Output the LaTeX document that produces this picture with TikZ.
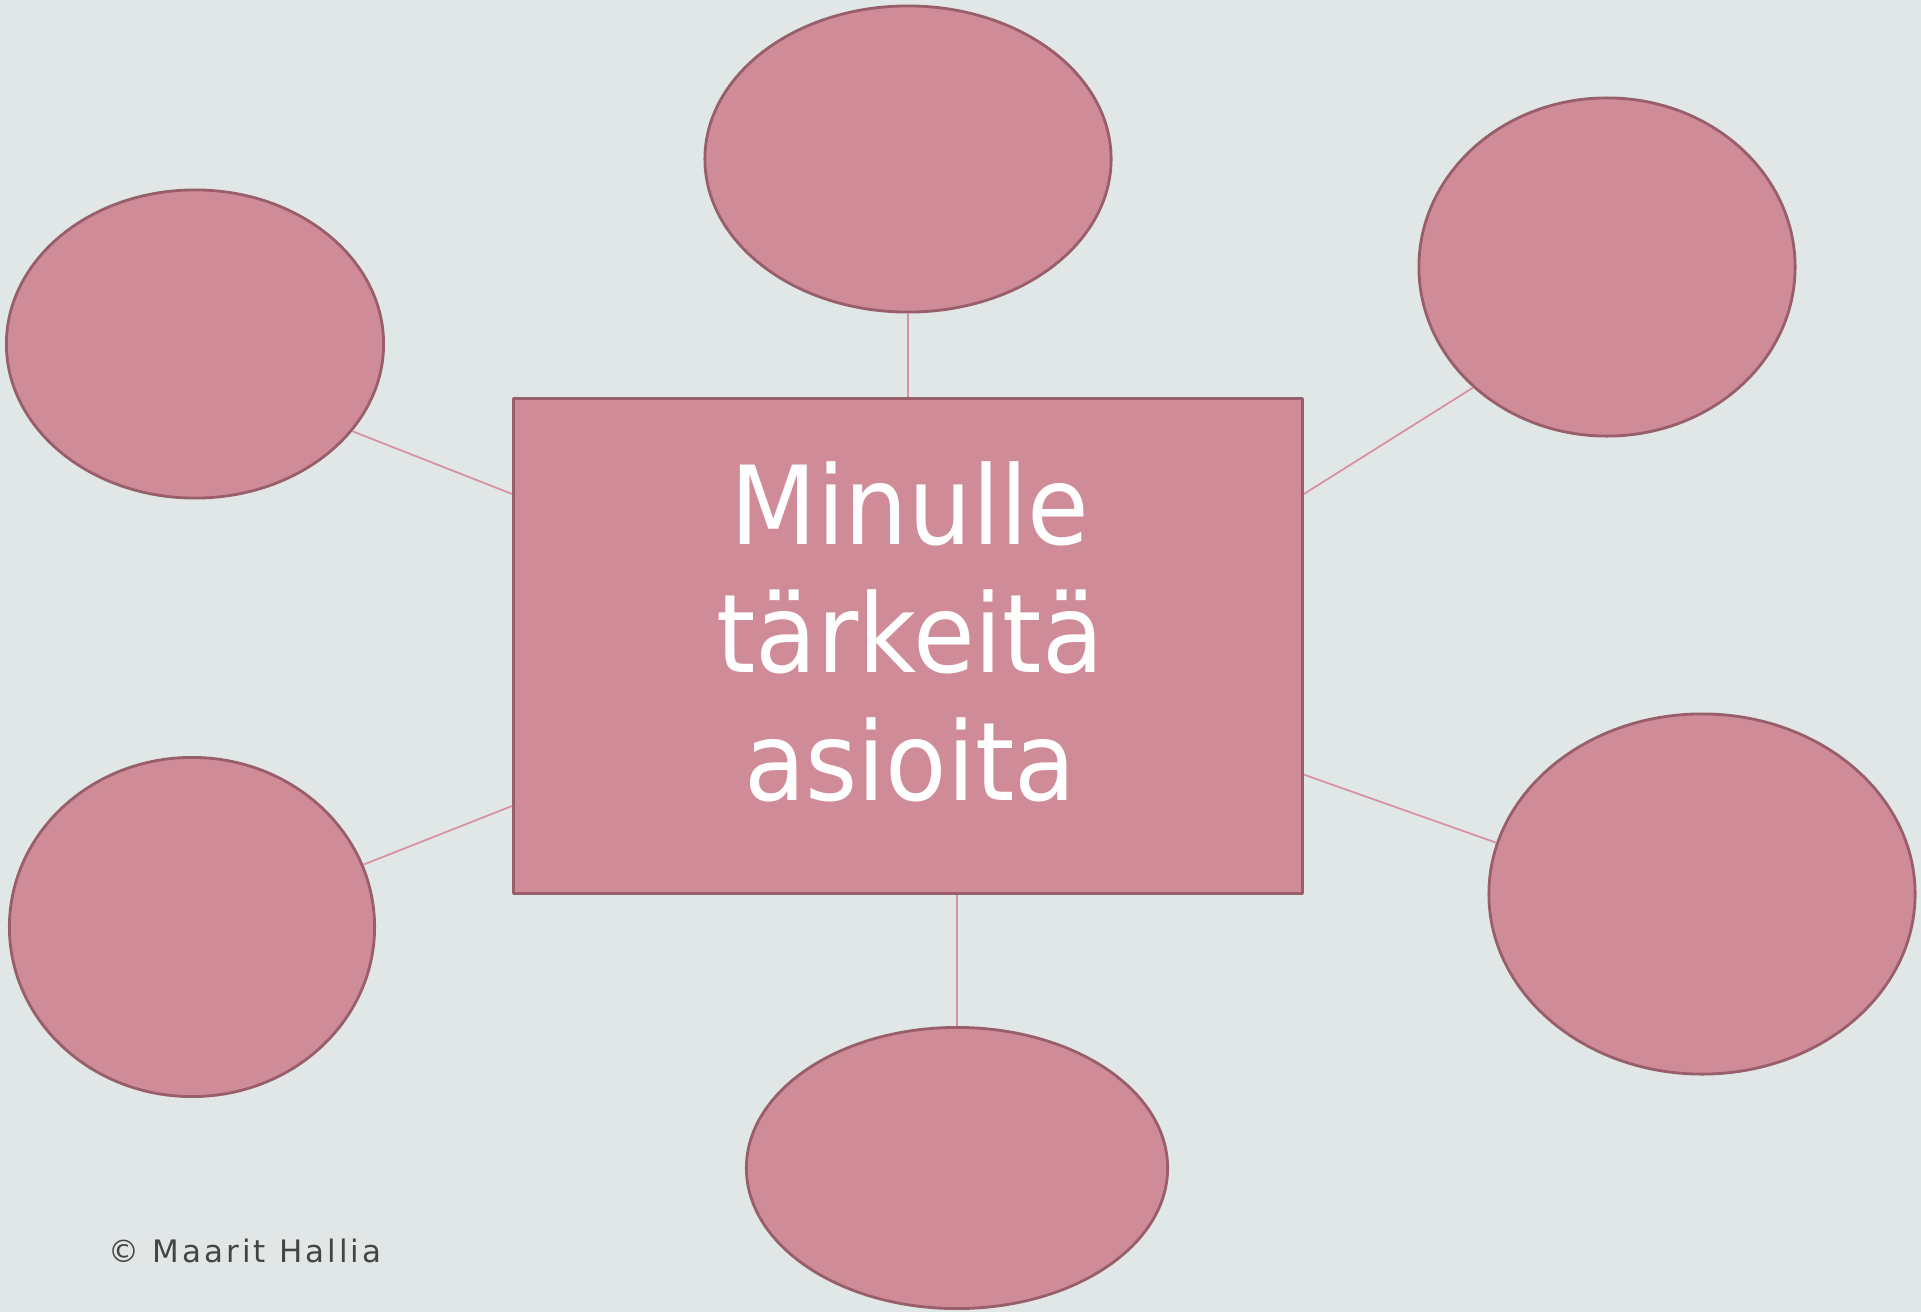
\documentclass[tikz,border=0pt]{standalone}
\usepackage{fontspec}
\usepackage{tikz}
\usetikzlibrary{shapes.geometric}
\setmainfont{DejaVu Sans}
\newfontfamily\titlefont[FakeStretch=0.92]{DejaVu Sans}
\newfontfamily\signfont[LetterSpace=10]{DejaVu Sans}
\definecolor{bgcol}{RGB}{225,231,231}
\definecolor{pink1}{RGB}{208,139,152}
\definecolor{pinkdark}{RGB}{152,94,106}
\definecolor{pinkline}{RGB}{214,146,159}
\definecolor{signcol}{RGB}{68,68,68}

\begin{document}
\begin{tikzpicture}[x=0.01cm,y=-0.01cm,line join=round]
  \tikzstyle{blob}=[ellipse,fill=pink1,draw=pinkdark,line width=0.8pt,inner sep=0pt]
  \tikzstyle{box}=[rectangle,fill=pink1,draw=pinkdark,line width=0.9pt,inner sep=0pt,
                   minimum width=7.88cm,minimum height=4.94cm]
  \tikzstyle{link}=[draw=pinkline,line width=0.5pt]

  % background and page size
  \fill[bgcol] (0,0) rectangle (1921,1312);
  \useasboundingbox (0,0) rectangle (1921,1312);

  \node[box]  (box) at (908,646) {};
  \node[text=white,align=center,inner sep=0pt,
        font=\titlefont\fontsize{31}{36.3}\selectfont]
              (title) at (910,632) {Minulle\\tärkeitä\\asioita};

  \node[blob,minimum width=4.06cm,minimum height=3.06cm] (top)   at (908,159)  {};
  \node[blob,minimum width=3.77cm,minimum height=3.08cm] (upl)   at (195,344)  {};
  \node[blob,minimum width=3.76cm,minimum height=3.38cm] (upr)   at (1607,267) {};
  \node[blob,minimum width=3.65cm,minimum height=3.39cm] (lowl)  at (192,927)  {};
  \node[blob,minimum width=4.26cm,minimum height=3.60cm] (lowr)  at (1702,894) {};
  \node[blob,minimum width=4.21cm,minimum height=2.81cm] (bot)   at (957,1168) {};

  \path (top.south)  edge[link] (box.north)
        (upl.-29)    edge[link] (box.159)
        (upr.-138)   edge[link] (box.21)
        (lowl.20)    edge[link] (box.-158)
        (lowr.166)   edge[link] (box.-18)
        (bot.north)  edge[link] (box.south -| bot.north);

  \node[anchor=base west,inner sep=0pt,text=signcol,
        font=\signfont\fontsize{8.8}{10}\selectfont]
              (sign) at (108,1262) {© Maarit Hallia};
\end{tikzpicture}
\end{document}
